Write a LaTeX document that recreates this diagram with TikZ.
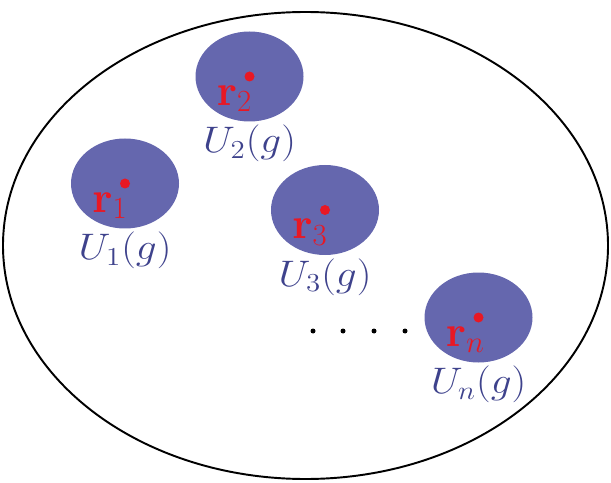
\RequirePackage{fix-cm}
\documentclass[tikz,border=0pt]{standalone}
\usepackage{amsmath, amssymb}
\usepackage{xcolor}
\usepackage{tikz}
\usetikzlibrary{positioning, shapes.geometric}

\definecolor{regionblue}{RGB}{101,103,174}
\definecolor{labelblue}{RGB}{62,66,140}
\definecolor{pointred}{RGB}{232,24,36}

\begin{document}
\begin{tikzpicture}[font=\fontsize{21}{24}\selectfont,
  region/.style={ellipse, fill=regionblue, minimum width=2.16cm, minimum height=1.8cm, inner sep=0pt},
  ulabel/.style={labelblue, xscale=1.12, inner sep=0pt},
  rlabel/.style={pointred, font=\fontsize{25}{28}\selectfont, inner sep=0pt, anchor=north west, xshift=-0.66cm, yshift=-0.18cm}]
  \useasboundingbox (0,0) rectangle (12.22,9.64);
  % the whole domain
  \draw[line width=1.1pt] (6.11,4.73) ellipse [x radius=6.05, y radius=4.67];
  % neighbourhoods U_i(g)
  \node[region] (u1) at (2.50,5.97) {};
  \node[region] (u2) at (4.99,8.11) {};
  \node[region] (u3) at (6.50,5.44) {};
  \node[region] (un) at (9.57,3.29) {};
  \node[ulabel, below=0.06cm of u1] (lu1) {$U_1(g)$};
  \node[ulabel, below=0.06cm of u2] (lu2) {$U_2(g)$};
  \node[ulabel, below=0.06cm of u3] (lu3) {$U_3(g)$};
  \node[ulabel, below=0.06cm of un] (lun) {$U_n(g)$};
  % centre points r_i
  \fill[pointred] (u1.center) circle (0.1);
  \fill[pointred] (u2.center) circle (0.1);
  \fill[pointred] (u3.center) circle (0.1);
  \fill[pointred] (un.center) circle (0.1);
  \node[rlabel] (r1) at (u1.center) {$\mathbf{r}_1$};
  \node[rlabel] (r2) at (u2.center) {$\mathbf{r}_2$};
  \node[rlabel] (r3) at (u3.center) {$\mathbf{r}_3$};
  \node[rlabel] (rn) at (un.center) {$\mathbf{r}_n$};
  % dots
  \foreach \x in {6.26, 6.86, 7.48, 8.10}
    \fill (\x, 3.02) circle (0.05);
\end{tikzpicture}
\end{document}
